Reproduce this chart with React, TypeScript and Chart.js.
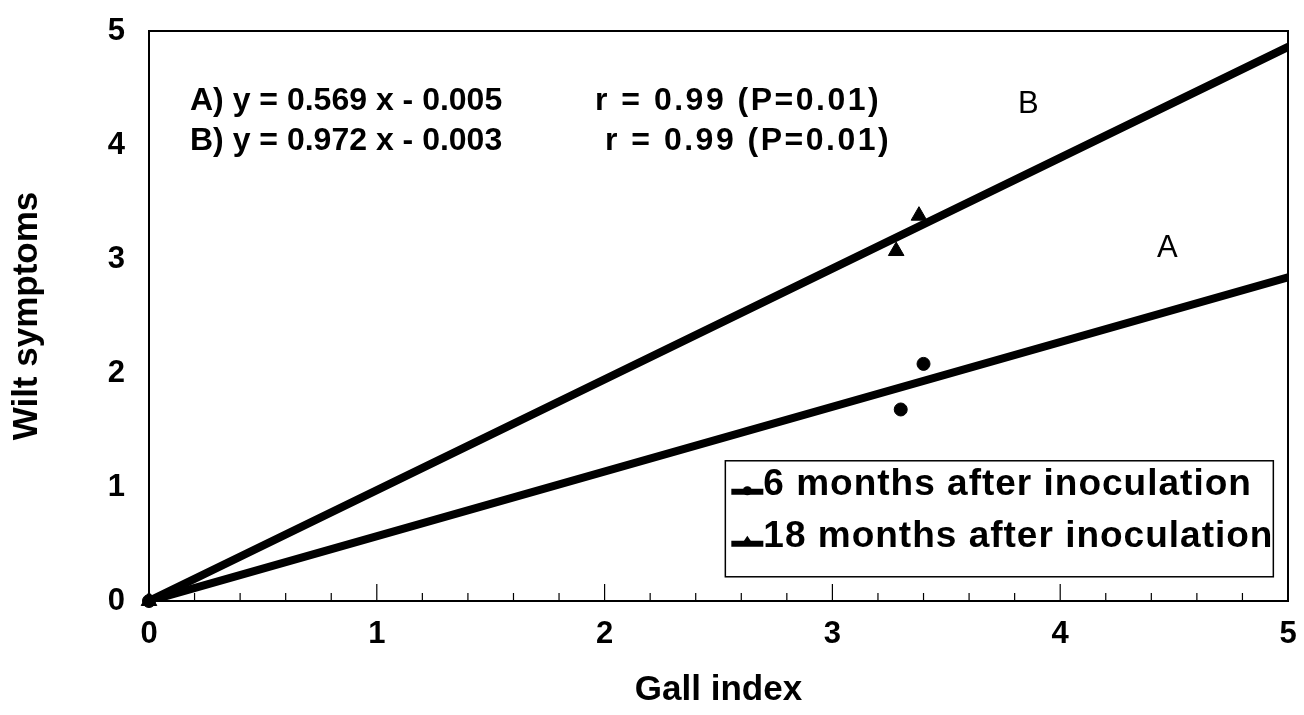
import React, { useEffect, useRef } from "react";
import { Chart, registerables } from "chart.js";

Chart.register(...registerables);

// ---- data ----
const xTickValues = [0, 1, 2, 3, 4, 5];
const yTickValues = [0, 1, 2, 3, 4, 5];
const regressionX = [0, 5];
const regressionA = [0, 2.84];
const regressionB = [0, 4.86];
const months6X = [0, 3.3, 3.4];
const months6Y = [0, 1.68, 2.08];
const months18X = [0, 3.28, 3.38];
const months18Y = [0, 3.07, 3.38];
const seriesLabels = ["6 months after inoculation", "18 months after inoculation"];
const equationLeft = ["A) y = 0.569 x - 0.005", "B) y = 0.972 x - 0.003"];
const equationRight = ["r = 0.99 (P=0.01)", "r = 0.99 (P=0.01)"];
const lineNames = ["A", "B"];
const xTitle = "Gall index";
const yTitle = "Wilt symptoms";

const FONT = "'Liberation Sans', Arial, sans-serif";

const overlay = {
  id: "overlay",
  afterDraw(chart: any) {
    const { ctx, chartArea } = chart;
    const { left, right, top, bottom } = chartArea;
    const xs = chart.scales.x;
    const ys = chart.scales.y;
    ctx.save();
    // frame
    ctx.strokeStyle = "#000";
    ctx.lineWidth = 2;
    ctx.strokeRect(left, top, right - left, bottom - top);
    // inward ticks on x axis
    ctx.lineWidth = 1.2;
    xs.ticks.forEach((t: any) => {
      const v = t.value;
      const major = Math.abs(v - Math.round(v)) < 1e-6;
      const px = xs.getPixelForValue(v);
      ctx.beginPath();
      ctx.moveTo(px, bottom);
      ctx.lineTo(px, bottom - (major ? 17 : 8));
      ctx.stroke();
    });
    // equations
    ctx.fillStyle = "#000";
    ctx.textBaseline = "middle";
    ctx.textAlign = "left";
    ctx.font = `bold 32px ${FONT}`;
    ctx.fillText(equationLeft[0], 190, 101);
    ctx.fillText(equationLeft[1], 190, 141);
    ctx.letterSpacing = "2.5px";
    ctx.fillText(equationRight[0], 595, 101);
    ctx.fillText(equationRight[1], 605, 141);
    ctx.letterSpacing = "0px";
    // line labels
    ctx.font = `31px ${FONT}`;
    ctx.textAlign = "center";
    ctx.fillText(lineNames[1], xs.getPixelForValue(3.86), ys.getPixelForValue(4.36));
    ctx.fillText(lineNames[0], xs.getPixelForValue(4.47), ys.getPixelForValue(3.09));
    // legend
    const lx = xs.getPixelForValue(2.53);
    const ly = ys.getPixelForValue(1.23);
    const lw = 548;
    const lh = 116;
    ctx.fillStyle = "#fff";
    ctx.fillRect(lx, ly, lw, lh);
    ctx.strokeStyle = "#000";
    ctx.lineWidth = 1.5;
    ctx.strokeRect(lx, ly, lw, lh);
    ctx.font = `bold 37px ${FONT}`;
    ctx.textAlign = "left";
    ctx.fillStyle = "#000";
    seriesLabels.forEach((lab, i) => {
      const cy = ly + 24 + i * 52;
      ctx.lineWidth = 6;
      ctx.beginPath();
      ctx.moveTo(lx + 6, cy + 7);
      ctx.lineTo(lx + 38, cy + 7);
      ctx.stroke();
      ctx.beginPath();
      if (i === 0) {
        ctx.arc(lx + 22, cy + 6, 4.5, 0, Math.PI * 2);
      } else {
        ctx.moveTo(lx + 22, cy - 1);
        ctx.lineTo(lx + 28, cy + 8);
        ctx.lineTo(lx + 16, cy + 8);
        ctx.closePath();
      }
      ctx.fill();
      ctx.letterSpacing = "1px";
      ctx.fillText(lab, lx + 38, cy);
      ctx.letterSpacing = "0px";
    });
    ctx.restore();
  },
};

export default function App() {
  const ref = useRef<HTMLCanvasElement | null>(null);
  useEffect(() => {
    if (!ref.current) return;
    const toPts = (xs: number[], ys: number[]) => xs.map((x, i) => ({ x, y: ys[i] }));
    const chart = new Chart(ref.current, {
      type: "scatter",
      data: {
        datasets: [
          {
            type: "line",
            label: "A",
            data: toPts(regressionX, regressionA),
            borderColor: "#000",
            borderWidth: 8,
            pointRadius: 0,
            borderCapStyle: "round",
          } as any,
          {
            type: "line",
            label: "B",
            data: toPts(regressionX, regressionB),
            borderColor: "#000",
            borderWidth: 8,
            pointRadius: 0,
            borderCapStyle: "round",
          } as any,
          {
            label: seriesLabels[0],
            data: toPts(months6X, months6Y),
            backgroundColor: "#000",
            borderColor: "#000",
            pointStyle: "circle",
            pointRadius: 6.5,
            clip: false,
          } as any,
          {
            label: seriesLabels[1],
            data: toPts(months18X, months18Y),
            backgroundColor: "#000",
            borderColor: "#000",
            pointStyle: "triangle",
            pointRadius: 9,
            clip: false,
          } as any,
        ],
      },
      options: {
        animation: false,
        responsive: false,
        events: [],
        layout: { padding: { left: 0, right: 16, top: 31, bottom: 0 } },
        plugins: { legend: { display: false }, tooltip: { enabled: false } },
        scales: {
          x: {
            type: "linear",
            min: 0,
            max: 5,
            grid: { display: false, drawTicks: false },
            border: { display: false },
            afterBuildTicks: (s: any) => {
              const arr: any[] = [];
              for (let i = 0; i < xTickValues.length - 1; i++) {
                const a = xTickValues[i];
                const b = xTickValues[i + 1];
                for (let k = 0; k < 5; k++) arr.push({ value: a + ((b - a) * k) / 5 });
              }
              arr.push({ value: xTickValues[xTickValues.length - 1] });
              s.ticks = arr;
            },
            afterFit: (s: any) => {
              s.height = 715 - 601;
              s.paddingLeft = 0;
              s.paddingRight = 0;
            },
            ticks: {
              autoSkip: false,
              maxRotation: 0,
              padding: 15,
              color: "#000",
              font: { size: 31, weight: "bold", family: FONT },
              callback: (v: any) => {
                const n = Number(v);
                return Math.abs(n - Math.round(n)) < 1e-6 ? String(Math.round(n)) : "";
              },
            },
            title: {
              display: true,
              text: xTitle,
              color: "#000",
              font: { size: 35, weight: "bold", family: FONT },
              padding: { top: 0, bottom: 4 },
            },
          },
          y: {
            type: "linear",
            min: 0,
            max: 5,
            grid: { display: false, drawTicks: false },
            border: { display: false },
            afterBuildTicks: (s: any) => {
              s.ticks = yTickValues.map((v) => ({ value: v }));
            },
            afterFit: (s: any) => {
              s.width = 149;
              s.paddingTop = 0;
              s.paddingBottom = 0;
            },
            ticks: {
              padding: 24,
              color: "#000",
              font: { size: 31, weight: "bold", family: FONT },
            },
            title: {
              display: true,
              text: yTitle,
              color: "#000",
              font: { size: 35, weight: "bold", family: FONT },
              padding: { top: 6, bottom: 0 },
            },
          },
        },
      },
      plugins: [overlay],
    });
    return () => chart.destroy();
  }, []);
  return (
    <div style={{ position: "fixed", left: 0, top: 0, width: 1304, height: 715, background: "#fff" }}>
      <canvas ref={ref} width={1304} height={715} style={{ display: "block" }} />
    </div>
  );
}
